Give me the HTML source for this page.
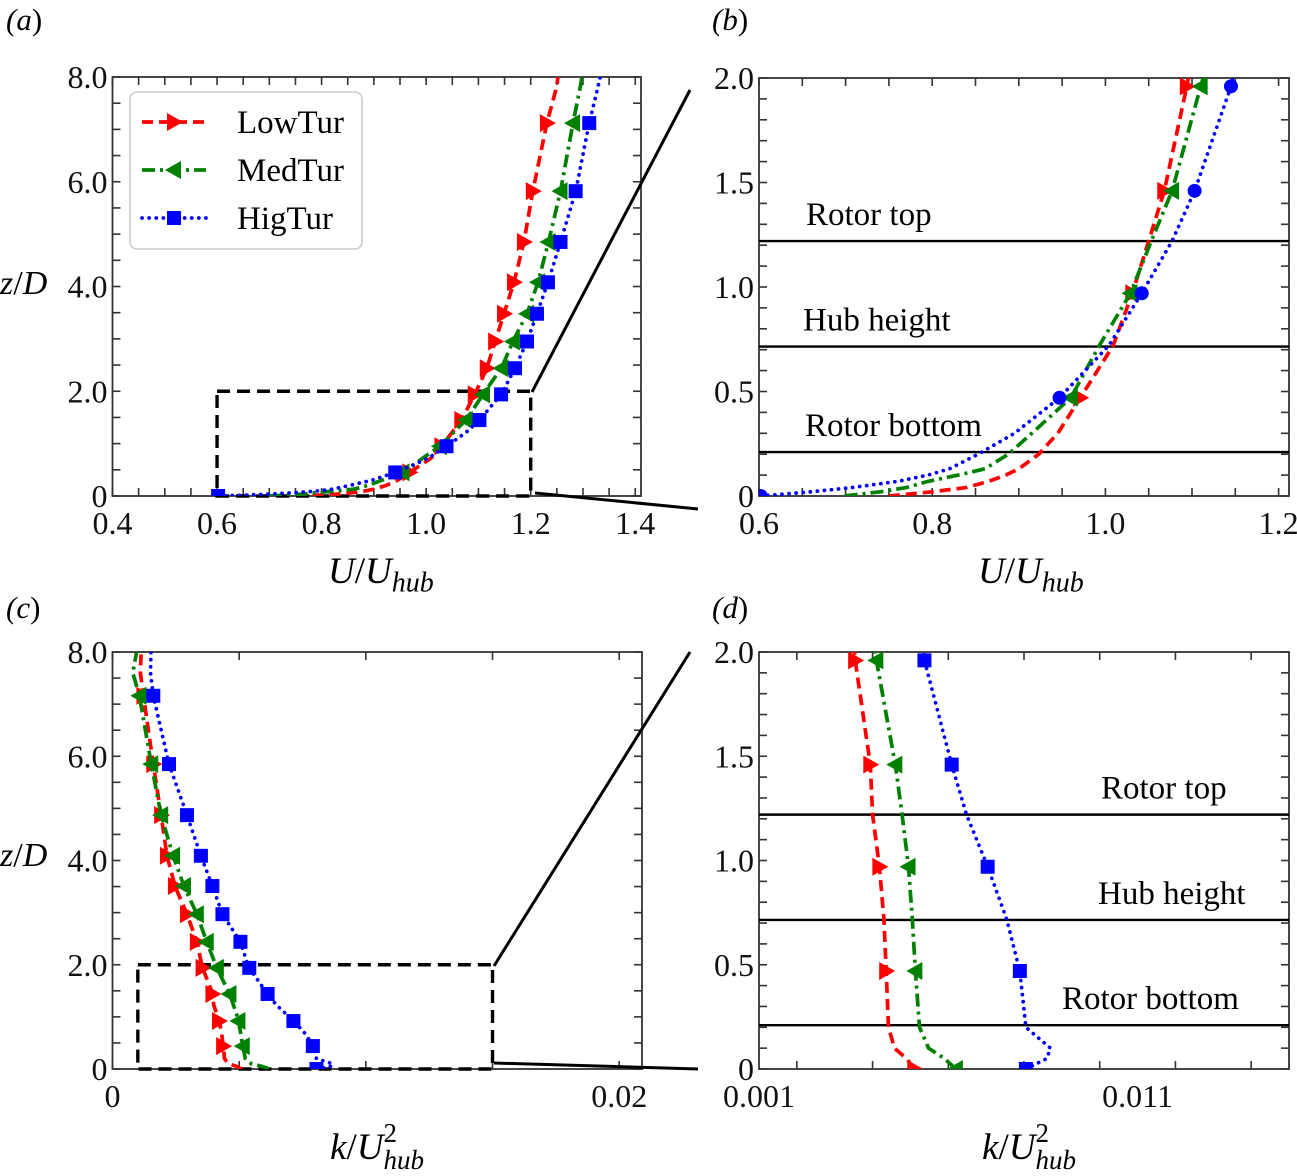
<!DOCTYPE html>
<html><head><meta charset="utf-8"><style>
html,body{margin:0;padding:0;background:#fff;}
svg{display:block;font-family:"Liberation Serif",serif;}
</style></head><body>
<svg id="fig" width="1297" height="1176" viewBox="0 0 1297 1176" xmlns="http://www.w3.org/2000/svg">
<defs>
<clipPath id="clipA"><rect x="112.5" y="77" width="528.5" height="419"/></clipPath>
<clipPath id="clipB"><rect x="759" y="78" width="530" height="418"/></clipPath>
<clipPath id="clipC"><rect x="112.5" y="652" width="529.5" height="417"/></clipPath>
<clipPath id="clipD"><rect x="759" y="652" width="530" height="417"/></clipPath>
</defs>
<g id="root"></g>
</svg>
<script>
// ---- velocity profile data ----
const zU = [0, 0.02, 0.04, 0.07, 0.1, 0.13, 0.2, 0.3, 0.47, 0.72, 0.97, 1.22, 1.46, 1.96, 2.44, 2.95, 3.48, 4.08, 4.85, 5.82, 7.12, 7.82, 8.0];
const uLow = [0.75, 0.80, 0.839, 0.865, 0.885, 0.90, 0.923, 0.945, 0.971, 1.009, 1.031, 1.05, 1.068, 1.094, 1.116, 1.132, 1.149, 1.168, 1.187, 1.204, 1.231, 1.25, 1.252];
const uMed = [0.699, 0.74, 0.77, 0.795, 0.83, 0.861, 0.888, 0.915, 0.96, 0.993, 1.029, 1.053, 1.077, 1.11, 1.144, 1.166, 1.193, 1.214, 1.234, 1.257, 1.281, 1.295, 1.298];
const uHig = [0.602, 0.66, 0.707, 0.76, 0.795, 0.82, 0.853, 0.895, 0.947, 1.004, 1.042, 1.077, 1.103, 1.145, 1.170, 1.193, 1.212, 1.233, 1.257, 1.286, 1.312, 1.329, 1.333];
const markZA = [0.45, 0.95, 1.45, 1.94, 2.44, 2.95, 3.48, 4.08, 4.85, 5.82, 7.12];
const markZB = [0.47, 0.97, 1.46, 1.96];
// ---- TKE profile data ----
const zK = [0, 0.05, 0.1, 0.2, 0.47, 0.72, 0.97, 1.22, 1.46, 1.96, 2.44, 2.97, 3.5, 4.09, 4.87, 5.85, 7.16, 7.6, 8.0];
const kLow = [0.0051, 0.0049, 0.00458, 0.00442, 0.00436, 0.0043, 0.00418, 0.0040, 0.00394, 0.00354, 0.00333, 0.00294, 0.00247, 0.00215, 0.00192, 0.00161, 0.00122, 0.0011, 0.00113];
const kMed = [0.0062, 0.0059, 0.00548, 0.00524, 0.00513, 0.00505, 0.00495, 0.00478, 0.0046, 0.0041, 0.00372, 0.00333, 0.00283, 0.00239, 0.00192, 0.00153, 0.00106, 0.0008, 0.00095];
const kHig = [0.00805, 0.0086, 0.0087, 0.00805, 0.00789, 0.00754, 0.00704, 0.00648, 0.00609, 0.00537, 0.00505, 0.00434, 0.00395, 0.00349, 0.00294, 0.00223, 0.00161, 0.0015, 0.00152];
const markZC = [0.44, 0.92, 1.44, 1.94, 2.44, 2.97, 3.51, 4.09, 4.87, 5.85, 7.16];
const markZD = [0, 0.47, 0.97, 1.46, 1.96];
// reference lines
const refZ = [1.22, 0.715, 0.21];
const refNames = ['Rotor top', 'Hub height', 'Rotor bottom'];
// ticks
const ticksAx = ['0.4','0.6','0.8','1.0','1.2','1.4'];
const ticksAy = ['0','2.0','4.0','6.0','8.0'];
const ticksBx = ['0.6','0.8','1.0','1.2'];
const ticksBy = ['0','0.5','1.0','1.5','2.0'];
const ticksCx = ['0','0.02'];
const ticksDx = ['0.001','0.011'];

const NS = 'http://www.w3.org/2000/svg';
const root = document.getElementById('root');
function el(tag, attrs, parent) {
  const e = document.createElementNS(NS, tag);
  for (const k in attrs) e.setAttribute(k, attrs[k]);
  (parent || root).appendChild(e);
  return e;
}
function lin(d0, d1, r0, r1) { return v => r0 + (v - d0) / (d1 - d0) * (r1 - r0); }
function interp(zs, vs, z) {
  for (let i = 0; i < zs.length - 1; i++) {
    if (z >= zs[i] && z <= zs[i+1]) { const t = (z - zs[i]) / (zs[i+1] - zs[i]); return vs[i] + t * (vs[i+1] - vs[i]); }
  }
  return vs[vs.length - 1];
}
const P = {
  A: {x0: 112.5, x1: 641, y0: 496, y1: 77, dx: [0.4, 1.411], dy: [0, 8]},
  B: {x0: 759, x1: 1289, y0: 496, y1: 78, dx: [0.6, 1.212], dy: [0, 2]},
  C: {x0: 112.5, x1: 642, y0: 1069, y1: 652, dx: [0, 0.0209], dy: [0, 8]},
  D: {x0: 759, x1: 1289, y0: 1069, y1: 652, dx: [0.001, 0.015], dy: [0, 2]}
};
for (const k in P) { const p = P[k]; p.sx = lin(p.dx[0], p.dx[1], p.x0, p.x1); p.sy = lin(p.dy[0], p.dy[1], p.y0, p.y1); }

const styles = {
  low: {color: '#ff0000', dash: '11,6', cap: 'butt'},
  med: {color: '#008000', dash: '13,5,3,5', cap: 'butt'},
  hig: {color: '#0000ff', dash: '0.1,7', cap: 'round'}
};

function marker(g, kind, x, y, color, name) {
  let m;
  if (kind === 'tr') m = el('polygon', {points: `${x+9},${y} ${x-7},${y-9} ${x-7},${y+9}`, fill: color}, g);
  else if (kind === 'tl') m = el('polygon', {points: `${x-9},${y} ${x+7},${y-9} ${x+7},${y+9}`, fill: color}, g);
  else if (kind === 'sq') m = el('rect', {x: x-7, y: y-7, width: 14, height: 14, fill: color}, g);
  else m = el('circle', {cx: x, cy: y, r: 7, fill: color}, g);
  
  
}

function series(pk, name, xs, zs, st, markZ, mk, clip) {
  const p = P[pk];
  const g = el('g', {'clip-path': `url(#${clip})`});
  
  
  const d = xs.map((v, i) => (i ? 'L' : 'M') + p.sx(v).toFixed(1) + ',' + p.sy(zs[i]).toFixed(1)).join(' ');
  const path = el('path', {d: d, fill: 'none', stroke: st.color, 'stroke-width': 3.7, 'stroke-dasharray': st.dash, 'stroke-linecap': st.cap, 'stroke-linejoin': 'round'}, g);
  
  
  markZ.forEach(z => marker(g, mk, p.sx(interp(zs, xs, z)), p.sy(z), st.color, name + '-marker'));
}

function frame(pk, xStep, yStep, xTicks, yTicks, name) {
  const p = P[pk];
  const g = el('g', {});
  
  
  for (let v = Math.ceil(p.dx[0] / xStep - 1e-6) * xStep; v <= p.dx[1] + 1e-9; v += xStep) {
    const x = p.sx(v);
    el('line', {x1: x, x2: x, y1: p.y0, y2: p.y0 - 8, stroke: '#333', 'stroke-width': 1.6}, g);
    el('line', {x1: x, x2: x, y1: p.y1, y2: p.y1 + 8, stroke: '#333', 'stroke-width': 1.6}, g);
  }
  for (let v = p.dy[0]; v <= p.dy[1] + 1e-9; v += yStep) {
    const y = p.sy(v);
    el('line', {x1: p.x0, x2: p.x0 + 8, y1: y, y2: y, stroke: '#333', 'stroke-width': 1.6}, g);
    el('line', {x1: p.x1, x2: p.x1 - 8, y1: y, y2: y, stroke: '#333', 'stroke-width': 1.6}, g);
  }
  el('rect', {x: p.x0, y: p.y1, width: p.x1 - p.x0, height: p.y0 - p.y1, fill: 'none', stroke: '#333', 'stroke-width': 1.8}, g);
  xTicks.forEach(t => {
    const tx = el('text', {x: p.sx(parseFloat(t)), y: p.y0 + 38, 'font-size': 32, 'text-anchor': 'middle', fill: '#111'}, g);
    tx.textContent = t;
    
    
  });
  yTicks.forEach(t => {
    const ty = el('text', {x: p.x0 - 5, y: p.sy(parseFloat(t)) + 11, 'font-size': 32, 'text-anchor': 'end', fill: '#111'}, g);
    ty.textContent = t;
    
    
  });
}

function refLines(pk, textX) {
  const p = P[pk];
  refZ.forEach((z, i) => {
    const y = p.sy(z);
    const l = el('line', {x1: p.x0, x2: p.x1, y1: y, y2: y, stroke: '#000', 'stroke-width': 2.4});
    
    
    const t = el('text', {x: textX[i], y: y - 16, 'font-size': 33, fill: '#000'});
    t.textContent = refNames[i];
    
    
  });
}

function zoomBox(pk, xa, xb, za, zb, conn) {
  const p = P[pk];
  const r = el('rect', {x: p.sx(xa), y: p.sy(zb), width: p.sx(xb) - p.sx(xa), height: p.sy(za) - p.sy(zb), fill: 'none', stroke: '#000', 'stroke-width': 3.4, 'stroke-dasharray': '13,7'});
  
  
  conn.forEach(c => {
    const l = el('line', {x1: c[0], y1: c[1], x2: c[2], y2: c[3], stroke: '#000', 'stroke-width': 3});
    
    
  });
}

frame('A', 0.05, 0.5, ticksAx, ticksAy, 'panel-a-axes');
frame('B', 0.05, 0.1, ticksBx, ticksBy, 'panel-b-axes');
frame('C', 0.005, 0.5, ticksCx, ticksAy, 'panel-c-axes');
frame('D', 0.002, 0.1, ticksDx, ticksBy, 'panel-d-axes');

refLines('B', [806, 803, 805]);
refLines('D', [1101, 1098, 1062]);

zoomBox('A', 0.6, 1.2, 0, 2, [[532, 392, 690, 90], [535, 493, 698, 509]]);
zoomBox('C', 0.001, 0.015, 0, 2, [[494, 966, 690, 652], [494, 1063, 698, 1069]]);

series('A', 'lowtur-a', uLow, zU, styles.low, markZA, 'tr', 'clipA');
series('A', 'medtur-a', uMed, zU, styles.med, markZA, 'tl', 'clipA');
series('A', 'higtur-a', uHig, zU, styles.hig, markZA.concat([0]), 'sq', 'clipA');
series('B', 'lowtur-b', uLow, zU, styles.low, markZB, 'tr', 'clipB');
series('B', 'medtur-b', uMed, zU, styles.med, markZB, 'tl', 'clipB');
series('B', 'higtur-b', uHig, zU, styles.hig, markZB.concat([0]), 'ci', 'clipB');
series('C', 'lowtur-c', kLow, zK, styles.low, markZC, 'tr', 'clipC');
series('C', 'medtur-c', kMed, zK, styles.med, markZC, 'tl', 'clipC');
series('C', 'higtur-c', kHig, zK, styles.hig, markZC.concat([0]), 'sq', 'clipC');
series('D', 'lowtur-d', kLow, zK, styles.low, markZD, 'tr', 'clipD');
series('D', 'medtur-d', kMed, zK, styles.med, markZD, 'tl', 'clipD');
series('D', 'higtur-d', kHig, zK, styles.hig, markZD, 'sq', 'clipD');

const lg = el('g', {});


el('rect', {x: 130, y: 92, width: 232, height: 157, rx: 7, fill: '#fff', stroke: '#ccc', 'stroke-width': 1.6}, lg);
const legItems = [['LowTur', styles.low, 'tr', 122], ['MedTur', styles.med, 'tl', 170], ['HigTur', styles.hig, 'sq', 218]];
legItems.forEach(it => {
  const y = it[3];
  const ln = el('line', {x1: 142, x2: 206, y1: y, y2: y, stroke: it[1].color, 'stroke-width': 3.7, 'stroke-dasharray': it[1].dash, 'stroke-linecap': it[1].cap}, lg);
  
  
  marker(lg, it[2], 174, y, it[1].color, 'legend-marker');
  const t = el('text', {x: 237, y: y + 11, 'font-size': 33, fill: '#000'}, lg);
  t.textContent = it[0];
  
  
});
</script>
<div style="position:absolute;left:0;top:0;width:1297px;height:1176px;pointer-events:none;font-family:'Liberation Serif',serif;color:#000;">
  <div style="position:absolute;left:6px;top:2px;font-size:31px;"><i>(a</i>)</div>
  <div style="position:absolute;left:712px;top:2px;font-size:31px;"><i>(b</i>)</div>
  <div style="position:absolute;left:6px;top:590px;font-size:31px;"><i>(c</i>)</div>
  <div style="position:absolute;left:712px;top:590px;font-size:31px;"><i>(d</i>)</div>
  <div style="position:absolute;left:0px;top:265px;font-size:34px;background:#fff;padding-right:1px;"><i>z</i>/<i>D</i></div>
  <div style="position:absolute;left:0px;top:837px;font-size:34px;background:#fff;padding-right:1px;"><i>z</i>/<i>D</i></div>
  <div style="position:absolute;left:328px;top:550px;font-size:37px;"><i>U</i>/<i>U<sub style="font-size:28px;">hub</sub></i></div>
  <div style="position:absolute;left:978px;top:550px;font-size:37px;"><i>U</i>/<i>U<sub style="font-size:28px;">hub</sub></i></div>
  <div style="position:absolute;left:330px;top:1120px;font-size:37px;"><i>k</i>/<i>U</i><span style="display:inline-block;vertical-align:-10px;line-height:1;font-size:27px;"><span style="display:block;">2</span><i style="display:block;">hub</i></span></div>
  <div style="position:absolute;left:982px;top:1120px;font-size:37px;"><i>k</i>/<i>U</i><span style="display:inline-block;vertical-align:-10px;line-height:1;font-size:27px;"><span style="display:block;">2</span><i style="display:block;">hub</i></span></div>
</div>
</body></html>
